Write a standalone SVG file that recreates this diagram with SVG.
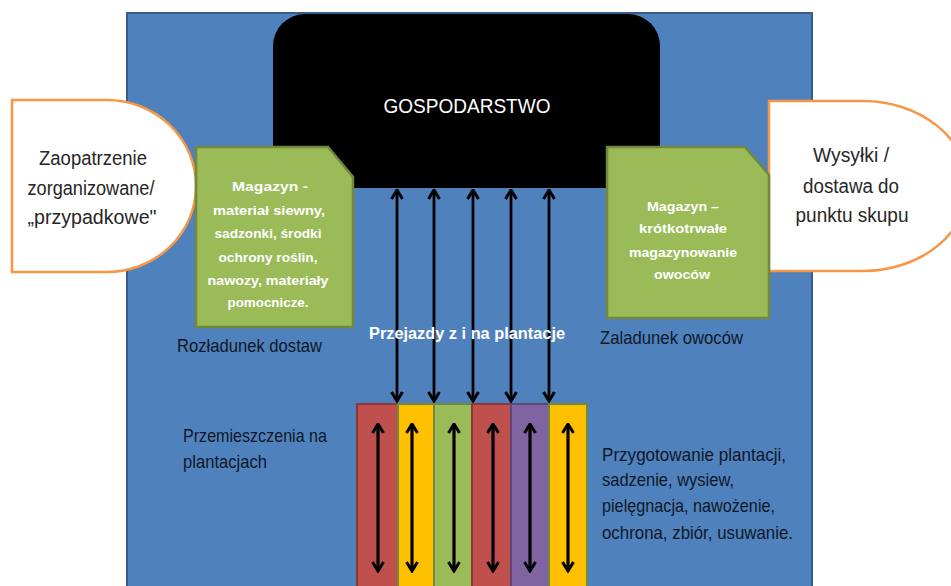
<svg xmlns="http://www.w3.org/2000/svg" width="951" height="586" viewBox="0 0 951 586">
<defs>
<style>
.t{font-family:"Liberation Sans",Arial,sans-serif}
.dk{fill:#262626;font-size:20px}
.nv{fill:#101828;font-size:19px}
.gw{fill:#ffffff;font-size:13px;font-weight:bold}
.green{fill:#9BBB59;stroke:#71893F;stroke-width:2.5}
.cloud{fill:#ffffff;stroke:#F79646;stroke-width:2.5}
.conn{stroke:#000;stroke-width:2.8;fill:none}
.inner{stroke:#000;stroke-width:3.2;fill:none}
</style>
<marker id="ah" viewBox="0 0 12 14" refX="10.5" refY="7" markerWidth="12" markerHeight="14" markerUnits="userSpaceOnUse" orient="auto-start-reverse">
<path d="M1.5,1.5 L10.5,7 L1.5,12.5" fill="none" stroke="#000" stroke-width="3"/>
</marker>
</defs>
<rect width="951" height="586" fill="#ffffff"/>
<g id="background">
<rect x="127" y="13" width="685" height="585" fill="#4F81BD" stroke="#385D8A" stroke-width="2"/>
</g>
<g id="gospodarstwo">
<path d="M273,188 V46 A32,32 0 0 1 305,14 H628 A32,32 0 0 1 660,46 V188 Z" fill="#000"/>
<text class="t" x="467" y="113" text-anchor="middle" fill="#fff" font-size="21" textLength="167" lengthAdjust="spacingAndGlyphs">GOSPODARSTWO</text>
</g>
<g id="zaopatrzenie">
<path class="cloud" d="M12,100 H107 A89,86 0 0 1 107,272 H12 Z"/>
<text class="t dk" text-anchor="middle"><tspan x="93" y="165" textLength="108" lengthAdjust="spacingAndGlyphs">Zaopatrzenie</tspan><tspan x="91" y="195" textLength="127" lengthAdjust="spacingAndGlyphs">zorganizowane/</tspan><tspan x="92" y="224" textLength="129" lengthAdjust="spacingAndGlyphs">„przypadkowe"</tspan></text>
</g>
<g id="wysylki">
<path class="cloud" d="M769,101 H863 A105,85 0 0 1 863,271 H769 Z"/>
<text class="t dk" text-anchor="middle"><tspan x="851" y="162" textLength="76" lengthAdjust="spacingAndGlyphs">Wysyłki /</tspan><tspan x="851" y="193" textLength="96" lengthAdjust="spacingAndGlyphs">dostawa do</tspan><tspan x="852" y="222" textLength="113" lengthAdjust="spacingAndGlyphs">punktu skupu</tspan></text>
</g>
<g id="magazyn-lewy">
<path class="green" d="M196,147 H328 L353,177 V327 H196 Z"/>
<text class="t gw" text-anchor="middle"><tspan x="270" y="191" textLength="76" lengthAdjust="spacingAndGlyphs">Magazyn  -</tspan><tspan x="269" y="215" textLength="112" lengthAdjust="spacingAndGlyphs">materiał siewny,</tspan><tspan x="268" y="238" textLength="107" lengthAdjust="spacingAndGlyphs">sadzonki, środki</tspan><tspan x="268" y="262" textLength="99" lengthAdjust="spacingAndGlyphs">ochrony roślin,</tspan><tspan x="268" y="285" textLength="121" lengthAdjust="spacingAndGlyphs">nawozy, materiały</tspan><tspan x="268" y="307" textLength="81" lengthAdjust="spacingAndGlyphs">pomocnicze.</tspan></text>
</g>
<g id="magazyn-prawy">
<path class="green" d="M607,147 H745 L769,175 V318 H607 Z"/>
<text class="t gw" text-anchor="middle"><tspan x="683" y="211" textLength="72" lengthAdjust="spacingAndGlyphs">Magazyn –</tspan><tspan x="683" y="233" textLength="88" lengthAdjust="spacingAndGlyphs">krótkotrwałe</tspan><tspan x="683" y="257" textLength="108" lengthAdjust="spacingAndGlyphs">magazynowanie</tspan><tspan x="682" y="279" textLength="56" lengthAdjust="spacingAndGlyphs">owoców</tspan></text>
</g>
<g id="plantacje">
<rect x="357" y="404" width="41" height="190" fill="#C0504D" stroke="#8C3836" stroke-width="2"/>
<rect x="398" y="404" width="36" height="190" fill="#FFC000" stroke="#71893F" stroke-width="2"/>
<rect x="434" y="404" width="38" height="190" fill="#9BBB59" stroke="#71893F" stroke-width="2"/>
<rect x="472" y="404" width="39" height="190" fill="#C0504D" stroke="#8C3836" stroke-width="2"/>
<rect x="511" y="404" width="38" height="190" fill="#8064A2" stroke="#5C4776" stroke-width="2"/>
<rect x="549" y="404" width="38" height="190" fill="#FFC000" stroke="#71893F" stroke-width="2"/>
</g>
<g id="connectors">
<line class="conn" x1="397" y1="190" x2="397" y2="401" marker-start="url(#ah)" marker-end="url(#ah)"/>
<line class="conn" x1="434" y1="190" x2="434" y2="401" marker-start="url(#ah)" marker-end="url(#ah)"/>
<line class="conn" x1="473" y1="190" x2="473" y2="401" marker-start="url(#ah)" marker-end="url(#ah)"/>
<line class="conn" x1="511" y1="190" x2="511" y2="401" marker-start="url(#ah)" marker-end="url(#ah)"/>
<line class="conn" x1="549" y1="190" x2="549" y2="401" marker-start="url(#ah)" marker-end="url(#ah)"/>
<line class="inner" x1="378" y1="424" x2="378" y2="571" marker-start="url(#ah)" marker-end="url(#ah)"/>
<line class="inner" x1="412" y1="424" x2="412" y2="571" marker-start="url(#ah)" marker-end="url(#ah)"/>
<line class="inner" x1="454" y1="424" x2="454" y2="571" marker-start="url(#ah)" marker-end="url(#ah)"/>
<line class="inner" x1="493" y1="424" x2="493" y2="571" marker-start="url(#ah)" marker-end="url(#ah)"/>
<line class="inner" x1="530" y1="424" x2="530" y2="571" marker-start="url(#ah)" marker-end="url(#ah)"/>
<line class="inner" x1="568" y1="424" x2="568" y2="571" marker-start="url(#ah)" marker-end="url(#ah)"/>
</g>
<g id="labels">
<text class="t nv" x="177" y="352" textLength="145" lengthAdjust="spacingAndGlyphs">Rozładunek dostaw</text>
<text class="t" x="369" y="339" fill="#fff" font-size="16" font-weight="bold" textLength="196" lengthAdjust="spacingAndGlyphs">Przejazdy z i  na plantacje</text>
<text class="t nv" x="600" y="344" textLength="143" lengthAdjust="spacingAndGlyphs">Zaladunek owoców</text>
<text class="t nv" font-size="17"><tspan x="183" y="442" textLength="144" lengthAdjust="spacingAndGlyphs">Przemieszczenia na</tspan><tspan x="183" y="468" textLength="84" lengthAdjust="spacingAndGlyphs">plantacjach</tspan></text>
<text class="t nv" font-size="18"><tspan x="602" y="461" textLength="184" lengthAdjust="spacingAndGlyphs">Przygotowanie plantacji,</tspan><tspan x="602" y="486" textLength="132" lengthAdjust="spacingAndGlyphs">sadzenie, wysiew,</tspan><tspan x="602" y="512" textLength="173" lengthAdjust="spacingAndGlyphs">pielęgnacja, nawożenie,</tspan><tspan x="602" y="539" textLength="191" lengthAdjust="spacingAndGlyphs">ochrona, zbiór, usuwanie.</tspan></text>
</g>
</svg>
